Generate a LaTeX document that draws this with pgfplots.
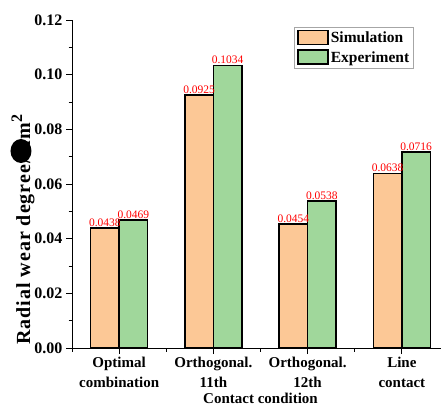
\documentclass[border=0pt]{standalone}
\usepackage{pgfplots}
\pgfplotsset{compat=1.18}
\usepackage{fontspec}
\setmainfont{Liberation Serif}
\definecolor{simc}{RGB}{252,200,150}
\definecolor{expc}{RGB}{160,215,155}
\begin{document}
\begin{tikzpicture}
\begin{axis}[
  at={(0,0)}, anchor=south west,
  scale only axis, width=377pt, height=328pt,
  xmin=-0.5, xmax=3.5, ymin=0, ymax=0.12,
  axis lines*=left,
  axis line style={line width=1pt},
  tick align=outside,
  major tick length=6pt, minor tick length=3.5pt,
  every tick/.style={line width=0.9pt, black},
  xtick={0,1,2,3},
  minor xtick={-0.5,0.5,1.5,2.5,3.5},
  xticklabels={Optimal\\combination, Orthogonal.\\11th, Orthogonal.\\12th, Line\\contact},
  xticklabel style={font=\fontsize{15}{20}\selectfont\bfseries, align=center},
  ytick={0,0.02,0.04,0.06,0.08,0.1,0.12},
  minor y tick num=1,
  yticklabel style={font=\fontsize{16}{19}\selectfont\bfseries, /pgf/number format/.cd, fixed, fixed zerofill, precision=2, assume math mode=true},
  scaled y ticks=false,
  xlabel={Contact condition},
  xlabel style={font=\fontsize{15}{18}\selectfont\bfseries, at={(axis description cs:0.5,0)}, anchor=base, yshift=-55pt},
  ylabel={Radial wear degree/mm\raisebox{0.4em}{\fontsize{16}{16}\selectfont 2}},
  ylabel style={font=\fontsize{20}{22}\selectfont\bfseries\addfontfeature{LetterSpace=5}, at={(axis description cs:-0.130,0.36)}, anchor=center, rotate=0},
  ybar, bar width=28.5pt,
  nodes near coords,
  every node near coord/.append style={font=\fontsize{11.5}{13}\selectfont, text=red, anchor=south, inner sep=0.8pt, /pgf/number format/.cd, fixed, precision=4, assume math mode=true},
  legend style={at={(axis description cs:0.59,0.979)}, anchor=north west, draw=gray!70, line width=0.6pt, font=\fontsize{15.5}{18}\selectfont\bfseries, inner sep=2.5pt, row sep=3pt},
  legend cell align=left,
  legend image code/.code={\draw[#1, line width=1.6pt, draw=black] (0pt,-6.5pt) rectangle (30pt,7.5pt);},
]
\addplot[fill=simc, draw=black, line width=1.6pt, bar shift=-14.25pt] coordinates {(0,0.0438) (1,0.0925) (2,0.0454) (3,0.0638)};
\addplot[fill=expc, draw=black, line width=1.6pt, bar shift=14.25pt] coordinates {(0,0.0469) (1,0.1034) (2,0.0538) (3,0.0716)};
\legend{Simulation, Experiment}
\end{axis}
\fill[black] (-51pt,197pt) ellipse (10.5pt and 12pt);
\pgfresetboundingbox
\path[use as bounding box] (-72pt,-57pt) rectangle (369pt,348pt);
\end{tikzpicture}
\end{document}
